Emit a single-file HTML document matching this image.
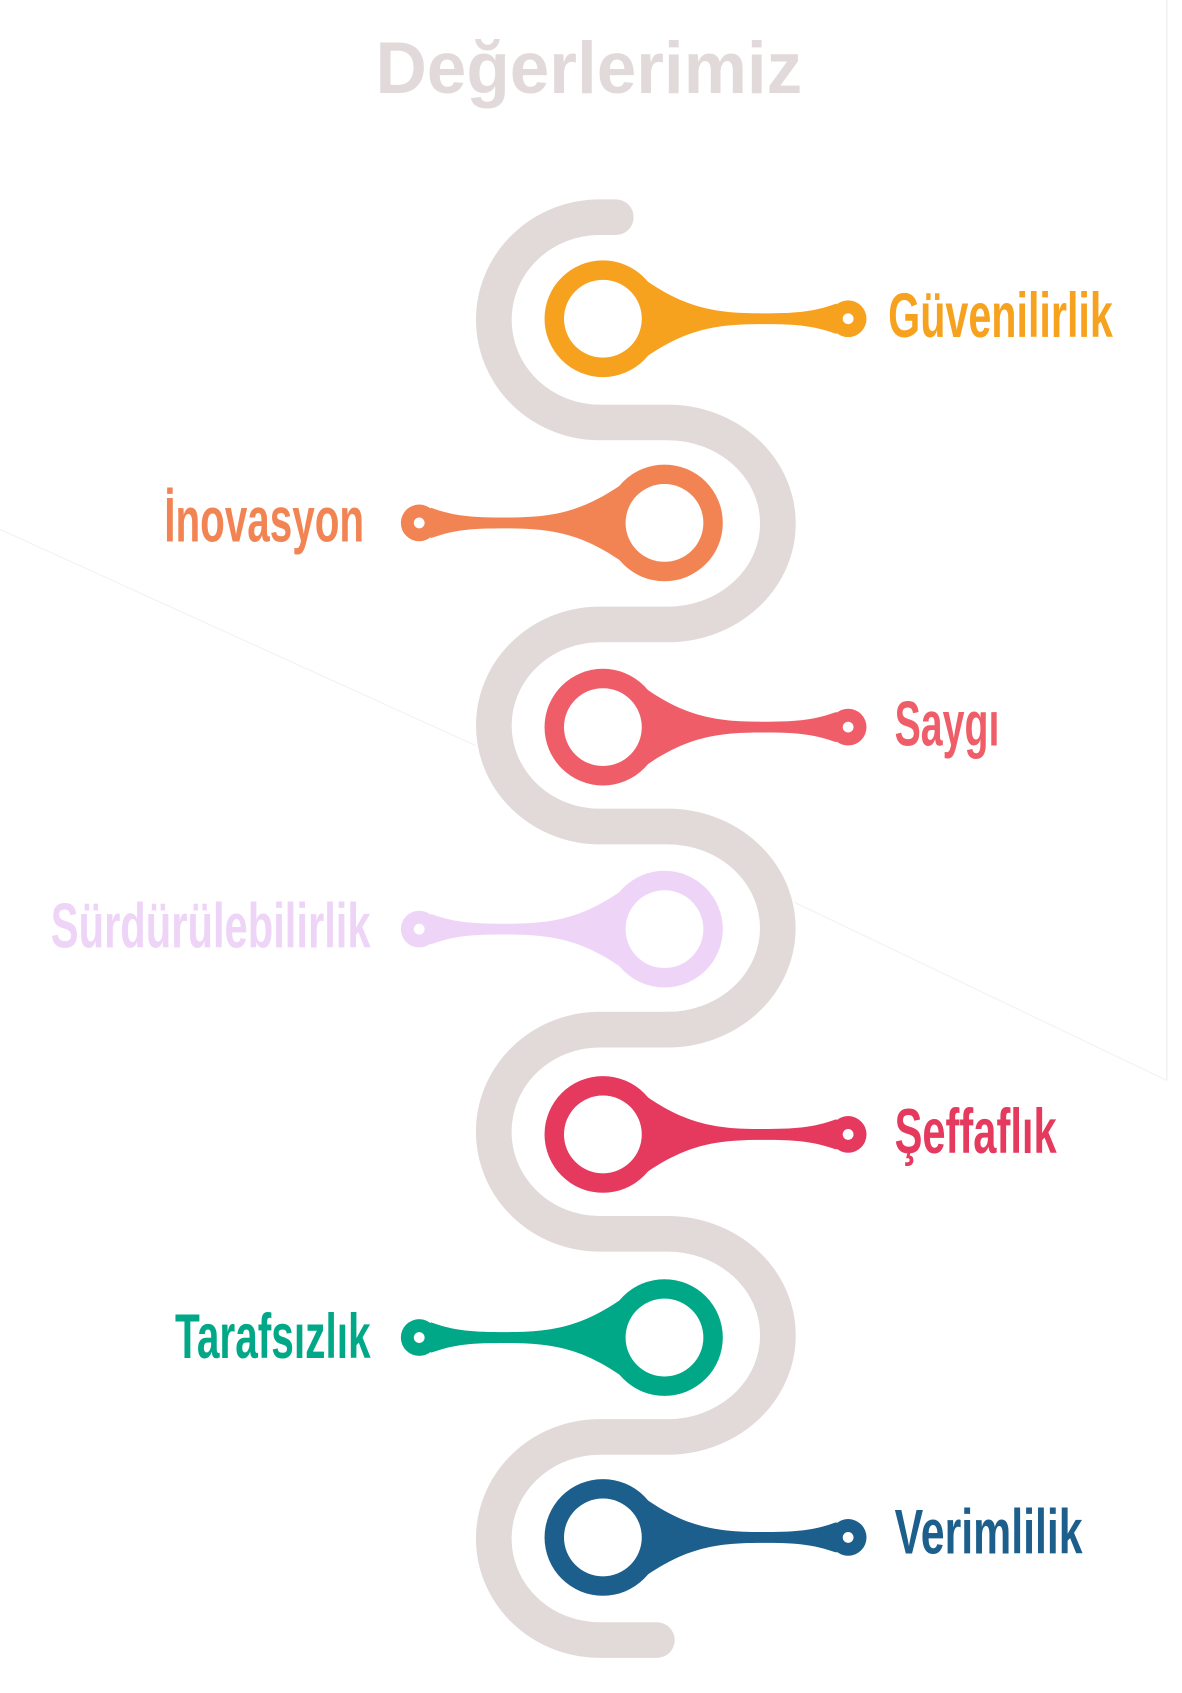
<!DOCTYPE html>
<html><head><meta charset="utf-8"><style>
html,body{margin:0;padding:0;background:#fff;}
svg{display:block;}
.lbl{font-family:"Liberation Sans Narrow","Liberation Sans",sans-serif;font-weight:bold;font-size:58px;}
</style></head><body>
<svg width="1182" height="1693" viewBox="0 0 1094 1567" xmlns="http://www.w3.org/2000/svg">
<line x1="1080" y1="0" x2="1080" y2="1000" stroke="#eeeaf2" stroke-width="1"/>
<line x1="0" y1="490" x2="440" y2="690" stroke="#f2f2f2" stroke-width="1"/>
<line x1="735" y1="835" x2="1080" y2="1000" stroke="#f2f2f2" stroke-width="1"/>
<text x="545" y="86" text-anchor="middle" font-family="Liberation Sans,sans-serif" font-weight="bold" font-size="68" fill="#e2dada" textLength="395" lengthAdjust="spacingAndGlyphs">Değerlerimiz</text>
<path d="M570,201 L555,201 A98,95 0 0 0 555,391 L618,391 A102,93.5 0 0 1 618,578 L555,578 A98,93.5 0 0 0 555,765 L618,765 A102,94 0 0 1 618,953 L555,953 A98,94.5 0 0 0 555,1142 L618,1142 A102,94 0 0 1 618,1330 L555,1330 A98,94 0 0 0 555,1518 L608,1518" fill="none" stroke="#e2dad9" stroke-width="33" stroke-linecap="round"/>
<defs>
<g id="R">
<path stroke="none" d="M585,250 C630,285 660,290 705,290 C735,290 752,289 774,281 L786,295 L774,309 C752,301 735,300 705,300 C660,300 630,305 585,340 Z"/>
<circle stroke="none" cx="785" cy="295" r="17"/>
<circle stroke="none" cx="785" cy="295" r="5" fill="#fff"/>
<circle stroke="none" cx="558" cy="295" r="54"/>
<circle stroke="none" cx="558" cy="295" r="36" fill="#fff"/>
</g>
</defs>
<g fill="#f7a21e"><use href="#R"/></g>
<g fill="#f28454" transform="translate(1173,189) scale(-1,1)"><use href="#R"/></g>
<g fill="#ef5d68" transform="translate(0,378)"><use href="#R"/></g>
<g fill="#eed5f8" transform="translate(1173,565) scale(-1,1)"><use href="#R"/></g>
<g fill="#e5395e" transform="translate(0,755)"><use href="#R"/></g>
<g fill="#00a887" transform="translate(1173,943) scale(-1,1)"><use href="#R"/></g>
<g fill="#1c5e8c" transform="translate(0,1128)"><use href="#R"/></g>
<text class="lbl" x="822" y="312" fill="#f7a21e" textLength="208" lengthAdjust="spacingAndGlyphs">Güvenilirlik</text>
<text class="lbl" x="152" y="501" fill="#f28454" textLength="185" lengthAdjust="spacingAndGlyphs">İnovasyon</text>
<text class="lbl" x="828" y="690" fill="#ef5d68" textLength="97" lengthAdjust="spacingAndGlyphs">Saygı</text>
<text class="lbl" x="47" y="877" fill="#eed5f8" textLength="296" lengthAdjust="spacingAndGlyphs">Sürdürülebilirlik</text>
<text class="lbl" x="828" y="1067" fill="#e5395e" textLength="150" lengthAdjust="spacingAndGlyphs">Şeffaflık</text>
<text class="lbl" x="162" y="1257" fill="#00a887" textLength="181" lengthAdjust="spacingAndGlyphs">Tarafsızlık</text>
<text class="lbl" x="828" y="1438" fill="#1c5e8c" textLength="174" lengthAdjust="spacingAndGlyphs">Verimlilik</text>
</svg>
</body></html>
